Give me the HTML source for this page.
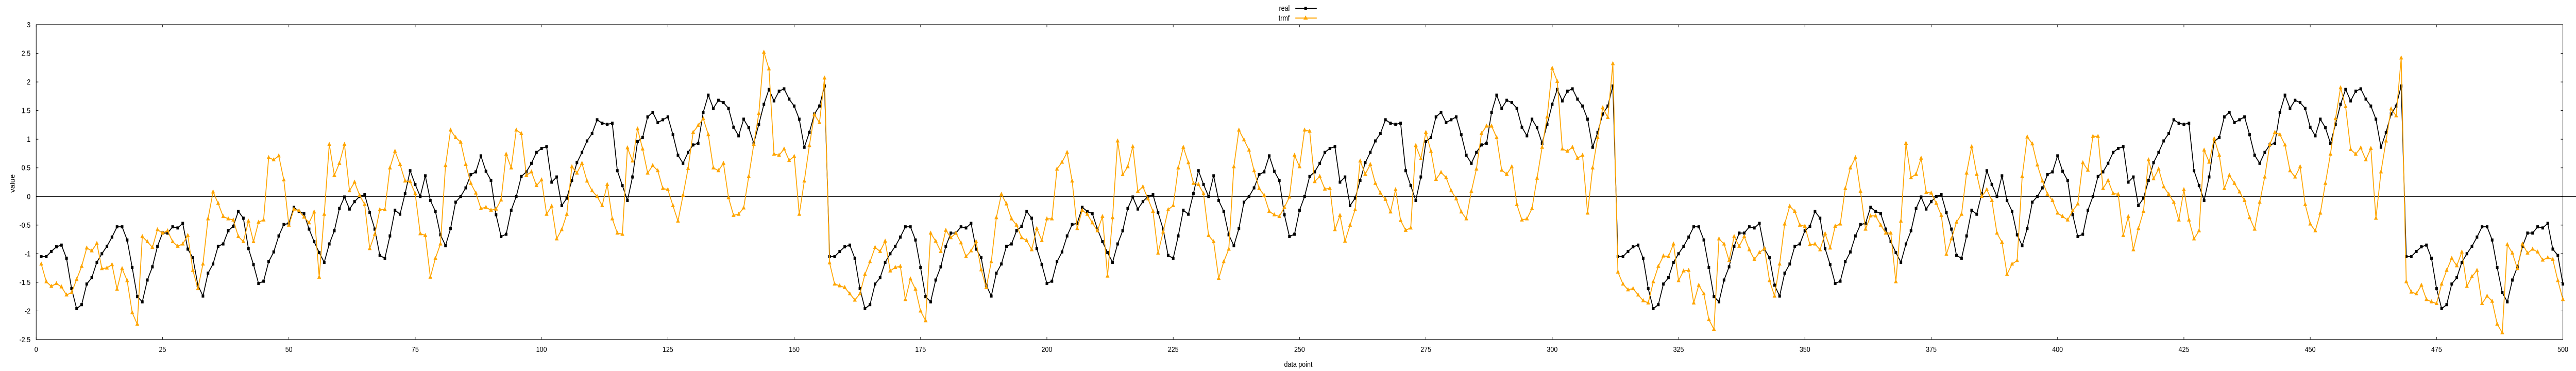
<!DOCTYPE html>
<html><head><meta charset="utf-8"><style>
html,body{margin:0;padding:0;background:#fff;width:6000px;height:720px;overflow:hidden;}
svg{display:block;font-family:"Liberation Sans",sans-serif;width:100vw;height:100vh;}
</style></head><body>
<svg id="chart" viewBox="0 0 6000 720" preserveAspectRatio="none" xmlns="http://www.w3.org/2000/svg">
<g id="axes"></g>
<g id="series"></g>
<g id="legend">
<text x="3004" y="21" text-anchor="end" font-size="15">real</text>
<line x1="3017" y1="16" x2="3067" y2="16" stroke="#000" stroke-width="2"/>
<rect x="3038" y="13" width="6" height="6" fill="#000"/>
<text x="3004" y="40" text-anchor="end" font-size="15">trmf</text>
<line x1="3017" y1="35" x2="3067" y2="35" stroke="#FFA500" stroke-width="2"/>
<polygon points="3041,30 3046,38 3036,38" fill="#FFA500"/>
</g>
<text x="3024" y="712" text-anchor="middle" font-size="15">data point</text>
<text x="0" y="0" transform="translate(34,356) rotate(-90)" text-anchor="middle" font-size="15">value</text>
</svg>
<script>
const realValues = [
-1.05,-1.05,-0.96,-0.88,-0.85,-1.08,-1.61,-1.96,-1.89,-1.53,-1.42,-1.15,-1.00,-0.87,-0.71,-0.53,-0.53,-0.76,-1.24,-1.75,-1.84,-1.46,-1.23,-0.87,-0.64,-0.64,-0.53,-0.55,-0.47,-0.92,-1.07,-1.55,-1.74,-1.34,-1.18,-0.87,-0.83,-0.60,-0.52,-0.26,-0.38,-0.91,-1.19,-1.52,-1.48,-1.14,-0.97,-0.69,-0.49,-0.47,-0.19,-0.26,-0.30,-0.57,-0.79,-0.98,-1.15,-0.83,-0.60,-0.21,-0.01,-0.22,-0.09,0.00,0.03,-0.28,-0.57,-1.03,-1.08,-0.69,-0.24,-0.31,0.05,0.45,0.21,0.00,0.36,-0.07,-0.26,-0.67,-0.86,-0.56,-0.10,0.00,0.15,0.38,0.43,0.71,0.44,0.28,-0.32,-0.70,-0.66,-0.24,0.00,0.35,0.43,0.58,0.77,0.84,0.87,0.25,0.34,-0.16,-0.03,0.28,0.59,0.77,0.97,1.10,1.34,1.28,1.26,1.28,0.45,0.19,-0.07,0.34,0.96,1.03,1.39,1.47,1.29,1.34,1.39,1.08,0.72,0.58,0.77,0.90,0.93,1.47,1.77,1.54,1.68,1.64,1.54,1.21,1.06,1.35,1.20,0.93,1.26,1.61,1.87,1.67,1.84,1.88,1.70,1.58,1.35,0.86,1.12,1.44,1.58,1.93,
-1.05,-1.05,-0.96,-0.88,-0.85,-1.08,-1.61,-1.96,-1.89,-1.53,-1.42,-1.15,-1.00,-0.87,-0.71,-0.53,-0.53,-0.76,-1.24,-1.75,-1.84,-1.46,-1.23,-0.87,-0.64,-0.64,-0.53,-0.55,-0.47,-0.92,-1.07,-1.55,-1.74,-1.34,-1.18,-0.87,-0.83,-0.60,-0.52,-0.26,-0.38,-0.91,-1.19,-1.52,-1.48,-1.14,-0.97,-0.69,-0.49,-0.47,-0.19,-0.26,-0.30,-0.57,-0.79,-0.98,-1.15,-0.83,-0.60,-0.21,-0.01,-0.22,-0.09,0.00,0.03,-0.28,-0.57,-1.03,-1.08,-0.69,-0.24,-0.31,0.05,0.45,0.21,0.00,0.36,-0.07,-0.26,-0.67,-0.86,-0.56,-0.10,0.00,0.15,0.38,0.43,0.71,0.44,0.28,-0.32,-0.70,-0.66,-0.24,0.00,0.35,0.43,0.58,0.77,0.84,0.87,0.25,0.34,-0.16,-0.03,0.28,0.59,0.77,0.97,1.10,1.34,1.28,1.26,1.28,0.45,0.19,-0.07,0.34,0.96,1.03,1.39,1.47,1.29,1.34,1.39,1.08,0.72,0.58,0.77,0.90,0.93,1.47,1.77,1.54,1.68,1.64,1.54,1.21,1.06,1.35,1.20,0.93,1.26,1.61,1.87,1.67,1.84,1.88,1.70,1.58,1.35,0.86,1.12,1.44,1.58,1.93,
-1.05,-1.05,-0.96,-0.88,-0.85,-1.08,-1.61,-1.96,-1.89,-1.53,-1.42,-1.15,-1.00,-0.87,-0.71,-0.53,-0.53,-0.76,-1.24,-1.75,-1.84,-1.46,-1.23,-0.87,-0.64,-0.64,-0.53,-0.55,-0.47,-0.92,-1.07,-1.55,-1.74,-1.34,-1.18,-0.87,-0.83,-0.60,-0.52,-0.26,-0.38,-0.91,-1.19,-1.52,-1.48,-1.14,-0.97,-0.69,-0.49,-0.47,-0.19,-0.26,-0.30,-0.57,-0.79,-0.98,-1.15,-0.83,-0.60,-0.21,-0.01,-0.22,-0.09,0.00,0.03,-0.28,-0.57,-1.03,-1.08,-0.69,-0.24,-0.31,0.05,0.45,0.21,0.00,0.36,-0.07,-0.26,-0.67,-0.86,-0.56,-0.10,0.00,0.15,0.38,0.43,0.71,0.44,0.28,-0.32,-0.70,-0.66,-0.24,0.00,0.35,0.43,0.58,0.77,0.84,0.87,0.25,0.34,-0.16,-0.03,0.28,0.59,0.77,0.97,1.10,1.34,1.28,1.26,1.28,0.45,0.19,-0.07,0.34,0.96,1.03,1.39,1.47,1.29,1.34,1.39,1.08,0.72,0.58,0.77,0.90,0.93,1.47,1.77,1.54,1.68,1.64,1.54,1.21,1.06,1.35,1.20,0.93,1.26,1.61,1.87,1.67,1.84,1.88,1.70,1.58,1.35,0.86,1.12,1.44,1.58,1.93,
-1.05,-1.05,-0.96,-0.88,-0.85,-1.08,-1.61,-1.96,-1.89,-1.53,-1.42,-1.15,-1.00,-0.87,-0.71,-0.53,-0.53,-0.76,-1.24,-1.68,-1.84,-1.46,-1.23,-0.87,-0.64,-0.64,-0.53,-0.55,-0.47,-0.92,-1.03,-1.53
];
const trmfValues = [
-1.18,-1.49,-1.57,-1.52,-1.58,-1.72,-1.68,-1.45,-1.22,-0.90,-0.95,-0.82,-1.26,-1.25,-1.19,-1.62,-1.26,-1.47,-2.03,-2.23,-0.70,-0.79,-0.89,-0.58,-0.64,-0.60,-0.79,-0.87,-0.83,-0.68,-1.29,-1.61,-1.18,-0.39,0.08,-0.12,-0.35,
-0.39,-0.41,-0.70,-0.79,-0.43,-0.79,-0.45,-0.41,0.68,0.64,0.71,0.29,-0.50,-0.22,-0.25,-0.36,-0.46,-0.27,-1.41,-0.31,0.91,0.37,0.58,0.91,0.10,0.25,0.02,-0.14,-0.91,-0.66,-0.23,-0.23,0.50,0.79,0.56,0.27,0.26,0.05,-0.65,-0.68,-1.41,-1.08,
-0.83,0.54,1.16,1.03,0.95,0.56,0.23,0.06,-0.21,-0.19,-0.24,-0.22,-0.06,0.74,0.50,1.16,1.10,0.37,0.43,0.19,0.29,-0.31,-0.17,-0.74,-0.58,-0.31,0.52,0.41,0.58,0.27,0.10,0.00,-0.16,0.21,-0.39,-0.64,-0.66,0.85,0.62,1.18,0.83,0.41,0.54,
0.45,0.14,0.12,-0.16,-0.43,0.02,0.49,1.12,1.24,1.36,1.08,0.50,0.45,0.58,-0.02,-0.33,-0.31,-0.20,0.35,0.91,1.45,2.52,2.23,0.74,0.72,0.83,0.63,0.70,-0.31,0.27,0.89,1.43,1.29,2.07,-1.16,-1.53,-1.56,-1.59,-1.70,-1.81,-1.70,-1.36,-1.14,-0.89,-0.96,-0.78,-1.30,
-1.24,-1.22,-1.80,-1.44,-1.62,-2.00,-2.17,-0.64,-0.78,-0.96,-0.59,-0.72,-0.64,-0.81,-1.05,-0.95,-0.79,-1.28,-1.59,-1.14,-0.37,0.04,-0.13,-0.39,-0.50,-0.72,-0.77,-0.93,-0.56,-0.77,-0.39,-0.39,0.48,0.60,0.77,0.27,-0.56,-0.24,-0.31,-0.46,-0.60,-0.35,-1.39,-0.37,0.97,0.38,0.52,0.87,
0.09,0.17,-0.04,-0.26,-0.99,-0.62,-0.23,-0.16,0.50,0.86,0.59,0.23,0.21,0.05,-0.68,-0.79,-1.43,-1.14,-0.92,0.52,1.16,0.99,0.81,0.45,0.14,0.02,-0.26,-0.32,-0.35,-0.19,-0.01,0.72,0.52,1.16,1.14,0.26,0.35,0.13,0.14,-0.58,-0.33,-0.78,-0.50,-0.23,0.62,0.39,0.56,
0.23,0.06,-0.05,-0.27,0.12,-0.42,-0.59,-0.55,0.89,0.66,1.12,0.79,0.30,0.42,0.33,0.10,-0.04,-0.27,-0.39,0.09,0.48,1.10,1.23,1.23,1.03,0.46,0.39,0.52,-0.14,-0.41,-0.39,-0.21,0.32,0.86,1.39,2.24,2.01,0.83,0.79,0.86,0.67,0.72,-0.29,0.50,1.03,1.55,1.38,2.32,
-1.32,-1.53,-1.63,-1.61,-1.72,-1.82,-1.86,-1.49,-1.22,-1.04,-1.05,-0.83,-1.47,-1.30,-1.29,-1.86,-1.55,-1.70,-2.15,-2.32,-0.74,-0.83,-1.12,-0.70,-0.87,-0.70,-0.93,-1.10,-0.98,-0.91,-1.47,-1.74,-1.18,-0.48,-0.17,-0.26,-0.50,-0.52,-0.84,-0.83,-0.93,-0.65,-0.90,-0.52,-0.48,0.14,0.50,
0.68,0.09,-0.57,-0.34,-0.34,-0.50,-0.64,-0.64,-1.49,-0.43,0.93,0.33,0.39,0.67,0.07,0.06,-0.12,-0.33,-1.01,-0.74,-0.45,-0.31,0.41,0.87,0.39,0.00,0.12,-0.07,-0.64,-0.80,-1.36,-1.18,-1.12,0.35,1.04,0.92,0.55,0.27,0.04,-0.07,-0.29,-0.35,-0.41,-0.25,-0.13,0.59,0.46,1.05,
1.05,0.14,0.28,0.05,0.04,-0.68,-0.35,-0.93,-0.56,-0.26,0.64,0.31,0.48,0.17,0.04,-0.10,-0.41,0.12,-0.41,-0.74,-0.60,0.81,0.60,1.01,0.72,0.14,0.37,0.23,0.08,-0.07,-0.37,-0.57,-0.10,0.34,0.91,1.12,1.08,0.90,0.45,0.34,0.52,-0.14,-0.48,-0.60,-0.29,0.23,0.74,1.36,
1.90,1.57,0.82,0.74,0.85,0.64,0.84,-0.38,0.43,0.97,1.53,1.41,2.42,-1.49,-1.67,-1.70,-1.55,-1.80,-1.84,-1.87,-1.53,-1.29,-1.08,-1.21,-0.97,-1.57,-1.40,-1.29,-1.87,-1.74,-1.83,-2.23,-2.38,-0.84,-0.99,-1.26,-0.83,-0.99,-0.92,-0.97,-1.11,-1.07,-1.10,-1.47,-1.80
];
const xTickValues = [0,25,50,75,100,125,150,175,200,225,250,275,300,325,350,375,400,425,450,475,500];
const yTickValues = [-2.5,-2,-1.5,-1,-0.5,0,0.5,1,1.5,2,2.5,3];
const yTickLabels = ["-2.5","-2","-1.5","-1","-0.5","0","0.5","1","1.5","2","2.5","3"];

const NS = "http://www.w3.org/2000/svg";
const L = 84.3, R = 5969.5, T = 48, B = 659;
const xMin = 0, xMax = 500, yMin = -2.5, yMax = 3;
function xs(v){ return L + (v - xMin) / (xMax - xMin) * (R - L); }
function ys(v){ return B - (v - yMin) / (yMax - yMin) * (B - T); }
function mk(tag, attrs, parent){
  const e = document.createElementNS(NS, tag);
  for (const k in attrs) e.setAttribute(k, attrs[k]);
  parent.appendChild(e);
  return e;
}
const axes = document.getElementById('axes');
const series = document.getElementById('series');

const zl = mk('line', {x1: L, y1: ys(0), x2: 6000, y2: ys(0), stroke: '#000', 'stroke-width': 1.2}, axes);



const fr = mk('rect', {x: L, y: T, width: R - L, height: B - T, fill: 'none', stroke: '#000', 'stroke-width': 1.2}, axes);



xTickValues.forEach(function(v){
  const x = xs(v);
  const t1 = mk('line', {x1: x, y1: B, x2: x, y2: B - 5, stroke: '#000', 'stroke-width': 1}, axes);
  
  
  const t2 = mk('line', {x1: x, y1: T, x2: x, y2: T + 5, stroke: '#000', 'stroke-width': 1}, axes);
  
  
  const lb = mk('text', {x: x, y: 683, 'text-anchor': 'middle', 'font-size': 15}, axes);
  lb.textContent = String(v);
  
  
});
yTickValues.forEach(function(v, i){
  const y = ys(v);
  const t1 = mk('line', {x1: L, y1: y, x2: L + 5, y2: y, stroke: '#000', 'stroke-width': 1}, axes);
  
  
  const t2 = mk('line', {x1: R, y1: y, x2: R - 5, y2: y, stroke: '#000', 'stroke-width': 1}, axes);
  
  
  const lb = mk('text', {x: 71, y: y + 5, 'text-anchor': 'end', 'font-size': 15}, axes);
  lb.textContent = yTickLabels[i];
  
  
});

function drawSeries(vals, color, name, marker){
  const g = mk('g', {}, series);
  
  
  const pts = vals.map(function(v, i){ return xs(i + 1).toFixed(2) + ',' + ys(v).toFixed(2); }).join(' ');
  const pl = mk('polyline', {points: pts, fill: 'none', stroke: color, 'stroke-width': 2, 'stroke-linejoin': 'round'}, g);
  
  
  vals.forEach(function(v, i){
    const cx = xs(i + 1), cy = ys(v);
    let m;
    if (marker === 'square') {
      m = mk('rect', {x: cx - 3, y: cy - 3, width: 6, height: 6, fill: color}, g);
    } else {
      m = mk('polygon', {points: cx + ',' + (cy - 5) + ' ' + (cx + 4.5) + ',' + (cy + 3) + ' ' + (cx - 4.5) + ',' + (cy + 3), fill: color}, g);
    }
    
    
  });
}
drawSeries(realValues, '#000000', 'real', 'square');
drawSeries(trmfValues, '#FFA500', 'trmf', 'triangle');
</script>
</body></html>
